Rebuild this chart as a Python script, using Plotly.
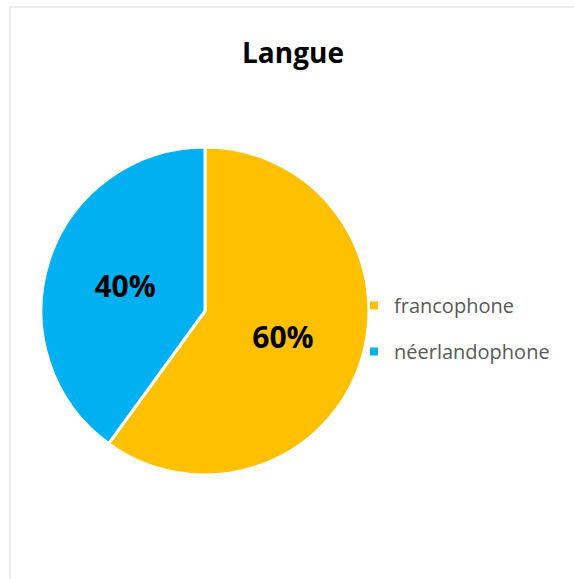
import plotly.graph_objects as go

W, H = 574, 579
title_text = "Langue"
labels = ["francophone", "néerlandophone"]
values = [60, 40]
colors = ["#FFC000", "#00B0F0"]

fig = go.Figure()
fig.add_trace(go.Pie(
    labels=labels, values=values, sort=False, direction="clockwise", rotation=0,
    marker=dict(colors=colors, line=dict(color="white", width=3)),
    texttemplate="%{percent:.0%}", textposition="inside", insidetextorientation="horizontal",
    textfont=dict(family="Open Sans", size=30, color="black", weight="bold"),
    showlegend=False, hoverinfo="label+percent",
    domain=dict(x=[41 / W, 369 / W], y=[1 - 475 / H, 1 - 147 / H]),
))
for lab, col in zip(labels, colors):
    fig.add_trace(go.Scatter(
        x=[None], y=[None], mode="markers", name=lab, legendgroup=lab,
        marker=dict(symbol="square", size=8, color=col),
    ))

fig.update_layout(
    width=W, height=H, margin=dict(l=0, r=0, t=0, b=0),
    paper_bgcolor="white", plot_bgcolor="white",
    xaxis=dict(visible=False), yaxis=dict(visible=False),
    title=dict(text="<b>" + title_text + "</b>", x=293 / W, xanchor="center",
               y=1 - 53 / H, yanchor="middle",
               font=dict(family="Open Sans", size=28, color="black")),
    legend=dict(x=354 / W, xanchor="left", y=1 - 286 / H, yanchor="top",
                traceorder="grouped", tracegroupgap=17, itemwidth=30,
                font=dict(family="Open Sans", size=20, color="#595959"),
                bgcolor="rgba(0,0,0,0)"),
    shapes=[dict(type="rect", xref="paper", yref="paper",
                 x0=10 / W, x1=1.02, y0=-0.02, y1=1 - 7 / H,
                 line=dict(color="#D9D9D9", width=1), layer="below")],
)
fig.write_html("out.html")
